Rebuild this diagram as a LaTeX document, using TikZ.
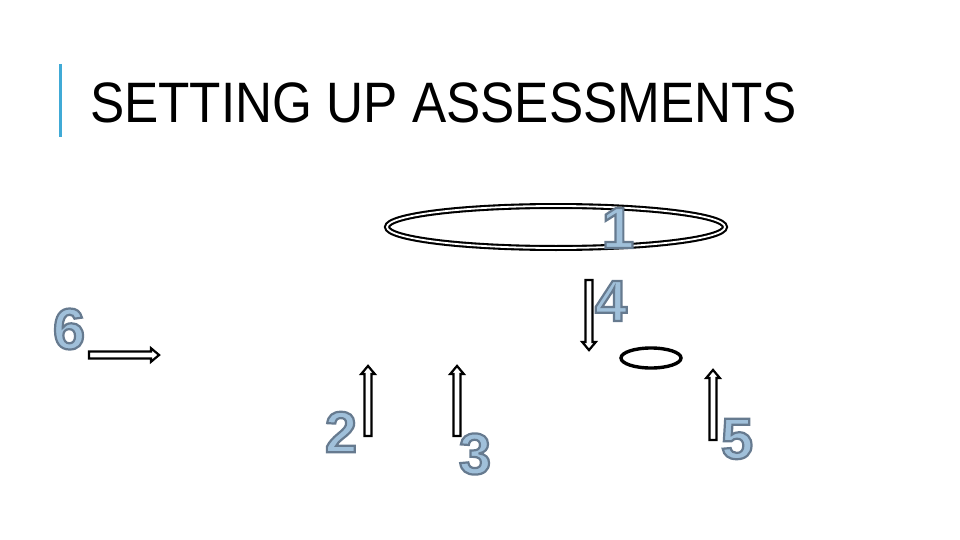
\documentclass[tikz,border=0pt]{standalone}
\usepackage{fontspec}
\setmainfont{Liberation Sans}
\usetikzlibrary{shapes.arrows}
\definecolor{barblue}{RGB}{64,170,214}
\definecolor{numfill}{RGB}{160,192,218}
% outlined digit (fill, then stroke)
\newcommand\outlinenum[1]{\special{pdf:literal direct 2 Tr 2.2 w 0.40 0.48 0.56 RG}#1\special{pdf:literal direct 0 Tr}}

\begin{document}
\begin{tikzpicture}[x=1pt,y=-1pt,
  numlbl/.style={text=numfill, font=\fontsize{58}{58}\selectfont\bfseries, inner sep=0},
  blockarrow/.style={single arrow, draw=black, fill=white, line width=2.2pt, inner xsep=0, inner ysep=2.4pt,
    minimum height=70pt, single arrow head extend=3.3pt, single arrow tip angle=80},
  bigring/.style={draw=black, double=white, double distance=1.8pt, line width=2.1pt},
  smallring/.style={draw=black, line width=3.4pt}]
\useasboundingbox (0,0) rectangle (960,540);

\draw[barblue, line width=3pt] (60,64) -- (60,137) ; % title bar
\node[anchor=base west, inner sep=0, xscale=0.9, font=\fontsize{57}{57}\selectfont] (title) at (90,123) {SETTING UP ASSESSMENTS};

\draw[bigring] (556,227) ellipse (169 and 21) ; % big ring
\node[numlbl] (n1) at (618,228) {\outlinenum{1}};

\node[blockarrow, rotate=-90] (ar4) at (589,313) {}; % down
\node[numlbl] (n4) at (611,301) {\outlinenum{4}};

\draw[smallring] (651,358) ellipse (30 and 10) ; % small ring

\node[numlbl] (n6) at (69,329) {\outlinenum{6}};
\node[blockarrow] (ar6) at (122,355) {}; % right

\node[blockarrow, rotate=90] (ar2) at (368,403) {};
\node[numlbl] (n2) at (341,432) {\outlinenum{2}};

\node[blockarrow, rotate=90] (ar3) at (457,403) {};
\node[numlbl] (n3) at (475,454) {\outlinenum{3}};

\node[blockarrow, rotate=90] (ar5) at (713,407) {};
\node[numlbl] (n5) at (737,439) {\outlinenum{5}};

\end{tikzpicture}
\end{document}
